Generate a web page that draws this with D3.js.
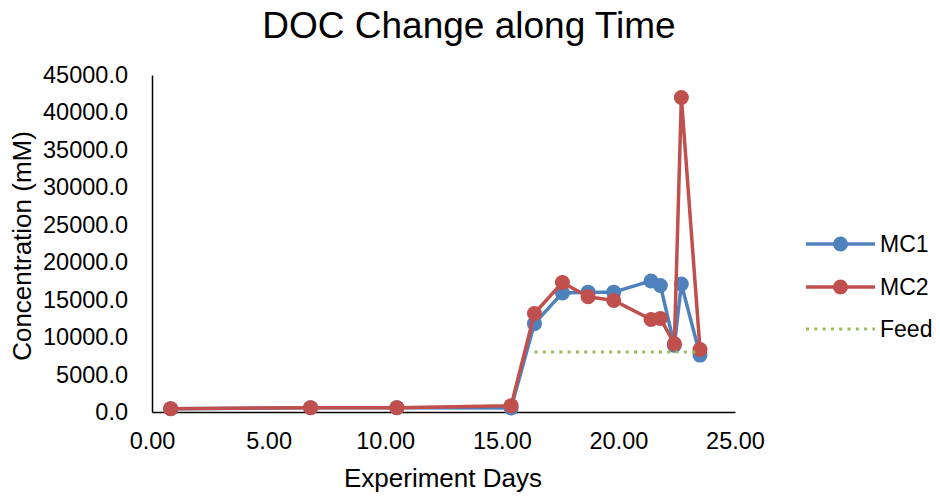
<!DOCTYPE html>
<html>
<head>
<meta charset="utf-8">
<script src="https://cdn.jsdelivr.net/npm/d3@7"></script>
<style>
  html, body { margin: 0; padding: 0; background: #fff; }
  svg { display: block; font-family: "Liberation Sans", Arial, sans-serif; }
</style>
</head>
<body>
<svg id="chart" width="940" height="499"></svg>
<script>
// Sampling days (experiment day) shared by all series
const days = [0.8, 6.8, 10.5, 15.4, 16.4, 17.6, 18.7, 19.8, 21.4, 21.8, 22.4, 22.7, 23.5];
// DOC concentration (mM) per reactor
const mc1 = [430, 560, 560, 550, 11800, 15900, 16000, 16000, 17500, 16900, 8900, 17100, 7600];
const mc2 = [450, 580, 580, 850, 13150, 17300, 15400, 14900, 12350, 12500, 9100, 42000, 8350];
// Feed concentration, only measured once feeding started
const feed = [null, null, null, null, 8000, 8000, 8000, 8000, 8000, 8000, 8000, 8000, 8000];
const yTicks = [0, 5000, 10000, 15000, 20000, 25000, 30000, 35000, 40000, 45000];
const xTicks = [0, 5, 10, 15, 20, 25];
const seriesNames = ["MC1", "MC2", "Feed"];

const colors = { MC1: "#4F81BD", MC2: "#C0504D", Feed: "#9BBB59" };

const svg = d3.select("#chart");
const x = d3.scaleLinear().domain([0, 25]).range([152, 735]);
const y = d3.scaleLinear().domain([0, 45000]).range([412, 75]);

// Title
svg.append("text")
  .attr("x", 469).attr("y", 38)
  .attr("text-anchor", "middle")
  .attr("font-size", 37)
  .attr("fill", "#000")
  .text("DOC Change along Time");

// Axes
const yAxis = svg.append("g")
  .attr("transform", "translate(152,0)")
  .call(d3.axisLeft(y).tickValues(yTicks).tickSize(0).tickPadding(24)
    .tickFormat(d => d3.format(".1f")(d)));
const xAxis = svg.append("g")
  .attr("transform", "translate(0,412)")
  .call(d3.axisBottom(x).tickValues(xTicks).tickSize(0).tickPadding(20)
    .tickFormat(d => d3.format(".2f")(d)));
[yAxis, xAxis].forEach(g => {
  g.select(".domain").attr("stroke", "#000").attr("stroke-width", 1.5);
  g.selectAll("text").attr("font-size", 23.5).attr("fill", "#000")
    .attr("font-family", "'Liberation Sans', Arial, sans-serif");
});

// Axis titles
svg.append("text")
  .attr("x", 443).attr("y", 487)
  .attr("text-anchor", "middle")
  .attr("font-size", 26)
  .attr("fill", "#000")
  .text("Experiment Days");
svg.append("text")
  .attr("transform", "translate(31,246) rotate(-90)")
  .attr("text-anchor", "middle")
  .attr("font-size", 26)
  .attr("fill", "#000")
  .text("Concentration (mM)");

// Series
const line = d3.line()
  .defined(d => d[1] != null)
  .x(d => x(d[0])).y(d => y(d[1]));

function drawSeries(values, color) {
  const pts = days.map((d, i) => [d, values[i]]);
  svg.append("path")
    .datum(pts)
    .attr("fill", "none")
    .attr("stroke", color)
    .attr("stroke-width", 3.5)
    .attr("stroke-linejoin", "round")
    .attr("d", line);
  svg.append("g").selectAll("circle")
    .data(pts)
    .join("circle")
    .attr("cx", d => x(d[0]))
    .attr("cy", d => y(d[1]))
    .attr("r", 7.5)
    .attr("fill", color);
}
drawSeries(mc1, colors.MC1);
drawSeries(mc2, colors.MC2);

svg.append("path")
  .datum(days.map((d, i) => [d, feed[i]]))
  .attr("fill", "none")
  .attr("stroke", colors.Feed)
  .attr("stroke-width", 3)
  .attr("stroke-dasharray", "3 5.3")
  .attr("d", line);

// Legend
const legend = svg.append("g");
const legendY = [244, 287, 329];
seriesNames.forEach((name, i) => {
  const g = legend.append("g").attr("transform", `translate(0,${legendY[i]})`);
  const l = g.append("line")
    .attr("x1", 806).attr("x2", 875)
    .attr("stroke", colors[name]);
  if (name === "Feed") {
    l.attr("stroke-width", 3).attr("stroke-dasharray", "3 5.3");
  } else {
    l.attr("stroke-width", 3.5);
    g.append("circle").attr("cx", 840.5).attr("cy", 0).attr("r", 7.5).attr("fill", colors[name]);
  }
  g.append("text")
    .attr("x", 880).attr("y", 0).attr("dy", "0.35em")
    .attr("font-size", 23)
    .attr("fill", "#000")
    .text(name);
});
</script>
</body>
</html>
